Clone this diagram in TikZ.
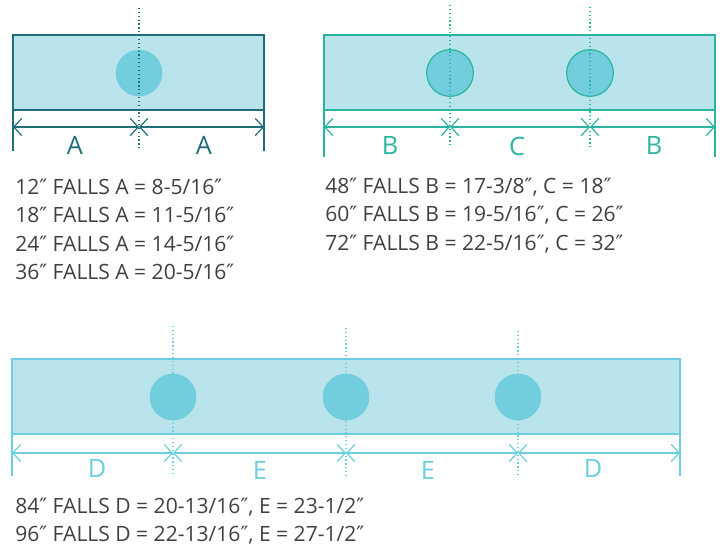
\documentclass[tikz,border=0pt]{standalone}
\usepackage{fontspec}
\setmainfont{Open Sans}
\newfontfamily\djv{DejaVu Sans}
\newcommand{\dprime}{{\djv ″}}
\usetikzlibrary{arrows.meta}
\definecolor{barfill}{HTML}{B9E4EC}
\definecolor{holefill}{HTML}{72CEDC}
\definecolor{darkteal}{HTML}{1E6F7A}
\definecolor{greenteal}{HTML}{2BB5A0}
\definecolor{lightcyan}{HTML}{6CCFDF}
\definecolor{txt}{HTML}{404040}
\tikzset{
  bar/.style={draw=#1, fill=barfill, line width=0.9pt},
  hole/.style={circle, fill=holefill, minimum size=35pt, inner sep=0pt},
  cline/.style={draw=#1, dotted, line width=0.9pt},
  ext/.style={draw=#1, line width=0.9pt},
  dim/.style={draw=#1, line width=0.9pt, {Straight Barb[length=6pt,width=13pt]}-{Straight Barb[length=6pt,width=13pt]}},
  dlab/.style={text=#1, font=\fontsize{19}{22}\selectfont, inner sep=0pt},
  spec/.style={text=txt, font=\fontsize{15.8}{18}\selectfont, anchor=west, inner sep=0pt},
}
\begin{document}
\begin{tikzpicture}[x=0.75pt,y=-0.75pt]
\useasboundingbox (0,0) rectangle (722,549);
% ---------- bar 1 ----------
\path[bar=darkteal] (13,35) rectangle (264,110);
\coordinate (b1bl) at (13,110); \coordinate (b1br) at (264,110);
\node[hole] (h1) at (139,73) {};
\coordinate (c1t) at (139,8); \coordinate (c1b) at (139,151);
\path[cline=darkteal] (c1t) -- (c1b);
\coordinate (e1l) at (13,151); \coordinate (e1r) at (264,151);
\path[ext=darkteal] (b1bl) -- (e1l);
\path[ext=darkteal] (b1br) -- (e1r);
\coordinate (d1a) at (13,127); \coordinate (d1b) at (139,127); \coordinate (d1c) at (264,127);
\path[dim=darkteal] (d1a) -- (d1b);
\path[dim=darkteal] (d1b) -- (d1c);
\node[dlab=darkteal] (la1) at (75,145) {A};
\node[dlab=darkteal] (la2) at (204,145) {A};
% ---------- bar 2 ----------
\path[bar=greenteal] (324,35) rectangle (715,110);
\coordinate (b2bl) at (324,110); \coordinate (b2br) at (715,110);
\node[hole, draw=greenteal, line width=0.9pt] (h2) at (450,73) {};
\node[hole, draw=greenteal, line width=0.9pt] (h3) at (590,73) {};
\coordinate (c2t) at (450,5); \coordinate (c2b) at (450,147);
\coordinate (c3t) at (590,7); \coordinate (c3b) at (590,149);
\path[cline=greenteal] (c2t) -- (c2b);
\path[cline=greenteal] (c3t) -- (c3b);
\coordinate (e2l) at (324,157); \coordinate (e2r) at (715,157);
\path[ext=greenteal] (b2bl) -- (e2l);
\path[ext=greenteal] (b2br) -- (e2r);
\coordinate (d2a) at (324,127); \coordinate (d2b) at (450,127);
\coordinate (d2c) at (590,127); \coordinate (d2d) at (715,127);
\path[dim=greenteal] (d2a) -- (d2b);
\path[dim=greenteal] (d2b) -- (d2c);
\path[dim=greenteal] (d2c) -- (d2d);
\node[dlab=greenteal] (lb1) at (390,145) {B};
\node[dlab=greenteal] (lc1) at (517,146) {C};
\node[dlab=greenteal] (lb2) at (654,145) {B};
% ---------- bar 3 ----------
\path[bar=lightcyan] (12,359) rectangle (680,434);
\coordinate (b3bl) at (12,434); \coordinate (b3br) at (680,434);
\node[hole] (h4) at (173,397) {};
\node[hole] (h5) at (346,397) {};
\node[hole] (h6) at (518,397) {};
\coordinate (c4t) at (173,326); \coordinate (c4b) at (173,473);
\coordinate (c5t) at (346,328); \coordinate (c5b) at (346,475);
\coordinate (c6t) at (518,331); \coordinate (c6b) at (518,477);
\path[cline=lightcyan] (c4t) -- (c4b);
\path[cline=lightcyan] (c5t) -- (c5b);
\path[cline=lightcyan] (c6t) -- (c6b);
\coordinate (e3l) at (12,476); \coordinate (e3r) at (680,476);
\path[ext=lightcyan] (b3bl) -- (e3l);
\path[ext=lightcyan] (b3br) -- (e3r);
\coordinate (d3a) at (12,453); \coordinate (d3b) at (173,453);
\coordinate (d3c) at (346,453); \coordinate (d3d) at (518,453);
\coordinate (d3e) at (680,453);
\path[dim=lightcyan] (d3a) -- (d3b);
\path[dim=lightcyan] (d3b) -- (d3c);
\path[dim=lightcyan] (d3c) -- (d3d);
\path[dim=lightcyan] (d3d) -- (d3e);
\node[dlab=lightcyan] (ld1) at (97,468) {D};
\node[dlab=lightcyan] (le1) at (260,470) {E};
\node[dlab=lightcyan] (le2) at (428,470) {E};
\node[dlab=lightcyan] (ld2) at (593,468) {D};
% ---------- specs ----------
\node[spec] (t1) at (15,187) {12\dprime{} FALLS A = 8-5/16\dprime};
\node[spec] (t2) at (15,215) {18\dprime{} FALLS A = 11-5/16\dprime};
\node[spec] (t3) at (15,244) {24\dprime{} FALLS A = 14-5/16\dprime};
\node[spec] (t4) at (15,272) {36\dprime{} FALLS A = 20-5/16\dprime};
\node[spec] (t5) at (325,187) {48\dprime{} FALLS B = 17-3/8\dprime, C = 18\dprime};
\node[spec] (t6) at (325,215) {60\dprime{} FALLS B = 19-5/16\dprime, C = 26\dprime};
\node[spec] (t7) at (325,244) {72\dprime{} FALLS B = 22-5/16\dprime, C = 32\dprime};
\node[spec] (t8) at (15,507) {84\dprime{} FALLS D = 20-13/16\dprime, E = 23-1/2\dprime};
\node[spec] (t9) at (15,535) {96\dprime{} FALLS D = 22-13/16\dprime, E = 27-1/2\dprime};
\end{tikzpicture}
\end{document}
